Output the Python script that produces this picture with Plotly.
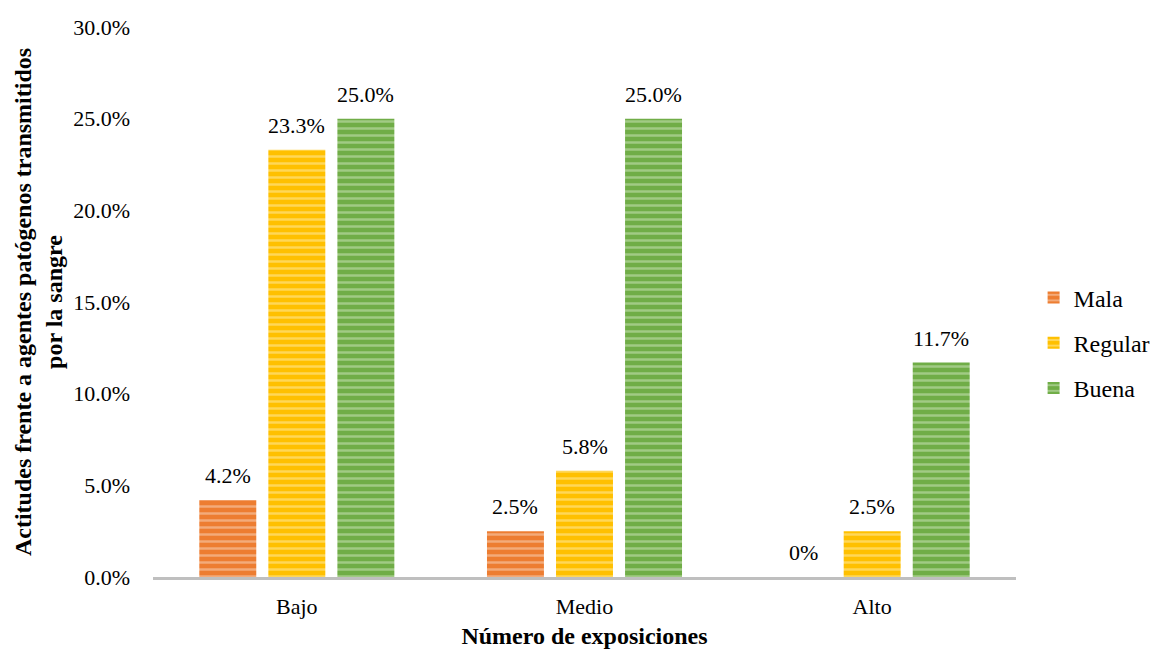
import plotly.graph_objects as go

categories = ["Bajo", "Medio", "Alto"]
series_names = ["Mala", "Regular", "Buena"]
mala = [4.2, 2.5, 0.0]
regular = [23.3, 5.8, 2.5]
buena = [25.0, 25.0, 11.7]
mala_labels = ["4.2%", "2.5%", "0%"]
regular_labels = ["23.3%", "5.8%", "2.5%"]
buena_labels = ["25.0%", "25.0%", "11.7%"]
y_ticks = [0, 5, 10, 15, 20, 25, 30]
y_tick_labels = ["0.0%", "5.0%", "10.0%", "15.0%", "20.0%", "25.0%", "30.0%"]

colors = ["#ED7D31", "#FFC000", "#70AD47"]
stripe = ["#FAD9C3", "#FFEDB0", "#D2E8C4"]

FONT = "Times New Roman"
BARGAP = 0.28
BARGROUPGAP = 0.175

fig = go.Figure()
all_vals = [mala, regular, buena]
all_labels = [mala_labels, regular_labels, buena_labels]
for name, vals, c, s in zip(series_names, all_vals, colors, stripe):
    fig.add_trace(go.Bar(
        x=categories, y=vals, name=name, legendgroup=name,
        marker=dict(color=c, line=dict(width=0),
                    pattern=dict(shape="-", bgcolor=c, fgcolor=s,
                                 size=7, solidity=0.35, fillmode="overlay")),
    ))

# value labels above the bars (positioned on the data scale)
slot = (1 - BARGAP) / len(series_names)
for i, (vals, labels) in enumerate(zip(all_vals, all_labels)):
    for j, (v, t) in enumerate(zip(vals, labels)):
        fig.add_annotation(
            x=j + (i - (len(series_names) - 1) / 2) * slot, y=v,
            xref="x", yref="y", text=t, showarrow=False,
            yanchor="bottom", yshift=10,
            font=dict(family=FONT, size=22, color="#000"))

fig.update_layout(
    width=1151, height=653,
    margin=dict(l=153, r=135, t=27, b=76),
    paper_bgcolor="white", plot_bgcolor="white",
    barmode="group", bargap=BARGAP, bargroupgap=BARGROUPGAP,
    font=dict(family=FONT, size=22, color="#000"),
    showlegend=True,
    legend=dict(xref="container", yref="container",
                x=0.898, y=0.4747, xanchor="left", yanchor="middle",
                font=dict(family=FONT, size=24), tracegroupgap=11,
                itemwidth=30, traceorder="grouped"),
    xaxis=dict(showline=True, linecolor="#BFBFBF", linewidth=3,
               ticks="", tickfont=dict(family=FONT, size=22),
               ticklabelstandoff=8, automargin=False,
               title=dict(text="<b>Número de exposiciones</b>",
                          font=dict(family=FONT, size=24), standoff=9)),
    yaxis=dict(range=[0, 30], tickvals=y_ticks, ticktext=y_tick_labels,
               showgrid=False, zeroline=False, showline=False,
               ticklabelstandoff=22, automargin=False,
               tickfont=dict(family=FONT, size=22),
               title=dict(text="<b>Actitudes frente a agentes patógenos transmitidos<br>por la sangre</b>",
                          font=dict(family=FONT, size=24), standoff=3)),
)

fig.write_html("out.html")
